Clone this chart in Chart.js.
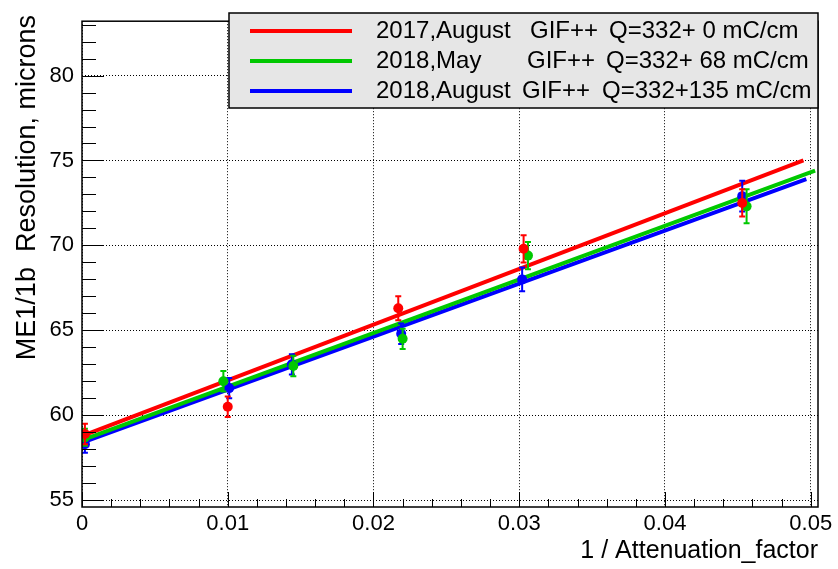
<!DOCTYPE html>
<html>
<head>
<meta charset="utf-8">
<script src="https://cdn.jsdelivr.net/npm/chart.js@4/dist/chart.umd.min.js"></script>
<style>
  html, body { margin: 0; padding: 0; background: #fff; }
  #wrap { width: 838px; height: 569px; }
</style>
</head>
<body>
<div id="wrap"><canvas id="myChart"></canvas></div>
<script>
// measured points (x = 1/attenuation, y = resolution in microns, e = error)
const redX = [0.0002, 0.0100, 0.0217, 0.0303, 0.0453];
const redY = [58.9, 60.5, 66.3, 69.8, 72.5];
const redE = [0.6, 0.6, 0.7, 0.8, 0.8];

const greenX = [0.0002, 0.0097, 0.0145, 0.0220, 0.0306, 0.0456];
const greenY = [58.7, 62.0, 62.9, 64.5, 69.4, 72.3];
const greenE = [0.5, 0.6, 0.6, 0.6, 0.8, 1.0];

const blueX = [0.0002, 0.0101, 0.0144, 0.0219, 0.0302, 0.0453];
const blueY = [58.3, 61.6, 63.0, 64.8, 68.0, 72.9];
const blueE = [0.5, 0.6, 0.6, 0.6, 0.7, 0.9];

// linear fits (end points)
const redFitX = [0.0002, 0.0495];
const redFitY = [58.85, 75.0];
const greenFitX = [0.0002, 0.0503];
const greenFitY = [58.6, 74.4];
const blueFitX = [0.0002, 0.0497];
const blueFitY = [58.45, 73.9];

const legendLabels = [
  ["2017,August", "GIF++", "Q=332+ 0 mC/cm"],
  ["2018,May", "GIF++", "Q=332+ 68 mC/cm"],
  ["2018,August", "GIF++", "Q=332+135 mC/cm"]
];

const RED = "#ff0000", GREEN = "#00c800", BLUE = "#0000ff";
const FONT = "'Liberation Sans', Arial, sans-serif";

function pts(xs, ys) {
  return xs.map((x, i) => ({ x: x, y: ys[i] }));
}

function pointSet(label, xs, ys, es, color) {
  return {
    label: label,
    type: "scatter",
    data: pts(xs, ys),
    errors: es,
    backgroundColor: color,
    borderColor: color,
    pointRadius: 5,
    pointBorderWidth: 0
  };
}

function fitSet(xs, ys, color) {
  return {
    type: "line",
    data: pts(xs, ys),
    borderColor: color,
    borderWidth: 4,
    pointRadius: 0,
    fill: false
  };
}

// error bars, drawn right after each point dataset
const errorBars = {
  id: "errorBars",
  afterDatasetDraw(chart, args) {
    const ds = chart.data.datasets[args.index];
    if (!ds.errors) return;
    const y = chart.scales.y;
    const ctx = chart.ctx;
    ctx.save();
    ctx.strokeStyle = ds.borderColor;
    ctx.lineWidth = 2;
    args.meta.data.forEach((p, i) => {
      const v = ds.data[i].y, e = ds.errors[i];
      const top = y.getPixelForValue(v + e), bot = y.getPixelForValue(v - e);
      ctx.beginPath();
      ctx.moveTo(p.x, top); ctx.lineTo(p.x, bot);
      ctx.moveTo(p.x - 3, top); ctx.lineTo(p.x + 3, top);
      ctx.moveTo(p.x - 3, bot); ctx.lineTo(p.x + 3, bot);
      ctx.stroke();
    });
    ctx.restore();
  }
};

// ROOT-like frame, inner ticks, axis titles and legend box
const frame = {
  id: "frame",
  afterDraw(chart) {
    const ctx = chart.ctx, a = chart.chartArea;
    const xs = chart.scales.x, ys = chart.scales.y;
    ctx.save();
    ctx.strokeStyle = "#000";
    ctx.lineWidth = 1;
    ctx.beginPath();
    for (let v = 0; v <= xs.max + 1e-9; v += 0.002) {
      const px = Math.round(xs.getPixelForValue(v)) + 0.5;
      const major = Math.abs(v / 0.01 - Math.round(v / 0.01)) < 1e-6;
      ctx.moveTo(px, a.bottom);
      ctx.lineTo(px, a.bottom - (major ? 15 : 8));
    }
    for (let v = Math.ceil(ys.min); v <= ys.max; v += 1) {
      const py = Math.round(ys.getPixelForValue(v)) + 0.5;
      ctx.moveTo(a.left, py);
      ctx.lineTo(a.left + (v % 5 === 0 ? 22 : 14), py);
    }
    ctx.stroke();
    ctx.lineWidth = 1.5;
    ctx.strokeRect(a.left, a.top, a.right - a.left, a.bottom - a.top);

    // axis titles
    ctx.fillStyle = "#000";
    ctx.font = "25px " + FONT;
    ctx.textAlign = "right";
    ctx.textBaseline = "alphabetic";
    ctx.fillText("1 / Attenuation_factor", a.right, 558);
    ctx.translate(35, 15);
    ctx.rotate(-Math.PI / 2);
    ctx.font = "27px " + FONT;
    ctx.fillText("ME1/1b  Resolution, microns", 0, 0);
    ctx.setTransform(1, 0, 0, 1, 0, 0);

    // legend
    const lx = 229, ly = 13, lw = 589, lh = 95;
    ctx.fillStyle = "#e6e6e6";
    ctx.fillRect(lx, ly, lw, lh);
    ctx.lineWidth = 1.5;
    ctx.strokeStyle = "#000";
    ctx.strokeRect(lx, ly, lw, lh);
    const colors = [RED, GREEN, BLUE];
    const col2 = [530, 527, 522], col3 = [609, 606, 602];
    ctx.font = "24px " + FONT;
    ctx.textAlign = "left";
    ctx.textBaseline = "middle";
    legendLabels.forEach((row, i) => {
      const yy = ly + 18 + i * 30;
      ctx.strokeStyle = colors[i];
      ctx.lineWidth = 4;
      ctx.beginPath();
      ctx.moveTo(250, yy); ctx.lineTo(352, yy);
      ctx.stroke();
      ctx.fillStyle = "#000";
      ctx.fillText(row[0], 376, yy);
      ctx.fillText(row[1], col2[i], yy);
      ctx.fillText(row[2], col3[i], yy);
    });
    ctx.restore();
  }
};

const ctx = document.getElementById("myChart").getContext("2d");

new Chart(ctx, {
  data: {
    datasets: [
      pointSet("2017,August", redX, redY, redE, RED),
      pointSet("2018,May", greenX, greenY, greenE, GREEN),
      pointSet("2018,August", blueX, blueY, blueE, BLUE),
      fitSet(redFitX, redFitY, RED),
      fitSet(greenFitX, greenFitY, GREEN),
      fitSet(blueFitX, blueFitY, BLUE)
    ]
  },
  options: {
    responsive: true,
    maintainAspectRatio: false,
    animation: false,
    layout: { padding: { top: 12, right: 20, left: 0, bottom: 0 } },
    plugins: {
      legend: { display: false },
      tooltip: { enabled: false }
    },
    scales: {
      x: {
        type: "linear",
        min: 0,
        max: 0.0505,
        afterFit: (s) => { s.height = 62; },
        ticks: {
          stepSize: 0.01,
          includeBounds: false,
          maxRotation: 0,
          padding: 4,
          color: "#000",
          font: { family: FONT, size: 22 },
          callback: (v) => (Math.abs(v) < 1e-9 ? "0" : v.toFixed(2))
        },
        grid: {
          color: "#000",
          lineWidth: 1,
          drawTicks: false,
          tickLength: 0
        },
        border: { display: false, dash: [1, 2] }
      },
      y: {
        type: "linear",
        min: 54.6,
        max: 83.2,
        afterFit: (s) => { s.width = 82; },
        ticks: {
          stepSize: 5,
          includeBounds: false,
          padding: 8,
          color: "#000",
          font: { family: FONT, size: 22 },
          callback: (v) => Math.round(v).toString()
        },
        grid: {
          color: "#000",
          lineWidth: 1,
          drawTicks: false,
          tickLength: 0
        },
        border: { display: false, dash: [1, 2] }
      }
    }
  },
  plugins: [errorBars, frame]
});
</script>
</body>
</html>
